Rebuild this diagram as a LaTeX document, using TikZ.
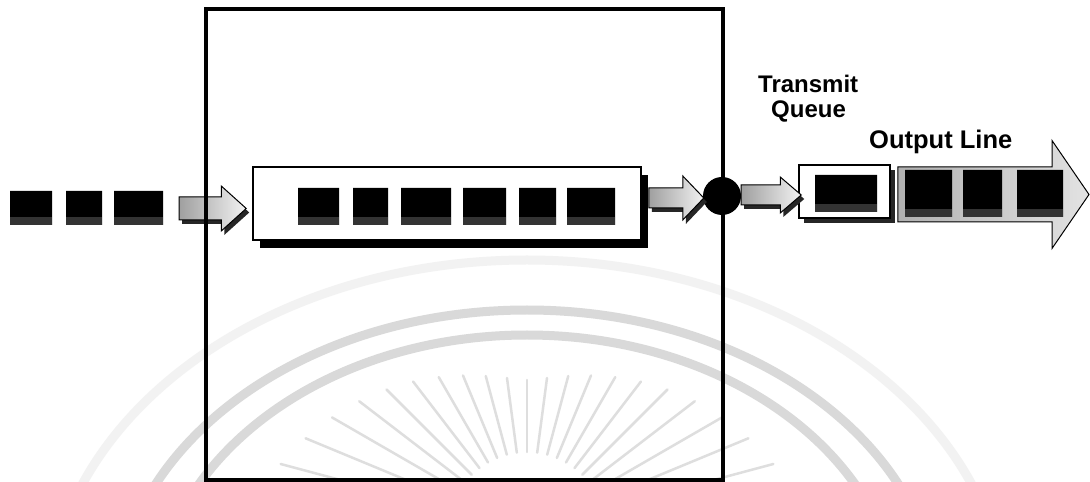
\documentclass[tikz,border=0pt]{standalone}
\usepackage{fontspec}
\setmainfont{Liberation Sans}
\usetikzlibrary{shapes.misc,shadows,calc}
% fat block arrow: #1 style, #2 from node, #3 x offset, #4 to node, #5 x offset, #6 y centre, #7 body half, #8 head half, #9 head length
\newcommand{\fatarrow}[9]{%
  \path[#1] let \p1=([xshift=#3pt]#2), \p2=([xshift=#5pt]#4) in
    (\x1,{#6pt-#7pt}) -- ({\x2-#9pt},{#6pt-#7pt}) -- ({\x2-#9pt},{#6pt-#8pt}) -- (\x2,{#6pt})
    -- ({\x2-#9pt},{#6pt+#8pt}) -- ({\x2-#9pt},{#6pt+#7pt}) -- (\x1,{#6pt+#7pt}) -- cycle;}
\begin{document}
\begin{tikzpicture}[x=1pt,y=1pt,
  pkt/.style={chamfered rectangle, chamfered rectangle corners={north west,south east},
    chamfered rectangle xsep=4pt, chamfered rectangle ysep=4pt, fill=black, inner sep=0pt,
    path picture={\fill[black!80] (path picture bounding box.south west) rectangle ([yshift=8pt]path picture bounding box.south east);}},
  qbox/.style={draw=black, line width=1.5pt, fill=white, inner sep=0pt},
  smallarrow/.style={draw=black, line width=1pt, left color=gray!75, right color=gray!10,
    drop shadow={shadow xshift=3pt, shadow yshift=-4pt, fill=black!85, opacity=1}},
  bigarrow/.style={draw=black, line width=1pt, left color=gray!62, right color=gray!22},
  lbl/.style={inner sep=0pt, anchor=base west, font=\bfseries\fontsize{24}{24}\selectfont},
  wm/.style={black!15, line width=9pt},
  ray/.style={black!13, line width=2.5pt, line cap=round}]
\clip (0,0) rectangle (1090,482);
\fill[white] (0,0) rectangle (1090,482);
% watermark
\draw[wm, black!5] (47,-138) arc[start angle=180, end angle=0, x radius=480, y radius=360];
\draw[wm] (114,-138) arc[start angle=180, end angle=0, x radius=413, y radius=310];
\draw[wm] (154,-138) arc[start angle=180, end angle=0, x radius=373, y radius=285];
\foreach \k in {-10,...,10}{
  \pgfmathsetmacro\ang{90+7.5*\k}
  \pgfmathsetmacro\rout{150+105*(abs(\k)/10)^1.5}
  \draw[ray] ($(527,-48)+(\ang:78)$) -- ($(527,-48)+(\ang:\rout)$);
}
% queue box and packets
\node[qbox, minimum width=388, minimum height=73,
  drop shadow={shadow xshift=7pt, shadow yshift=-8pt, fill=black, opacity=1}] (queue) at (447,278.5) {};
\node[pkt, minimum width=42, minimum height=34] (p1) at (31,274) {};
\node[pkt, minimum width=36, minimum height=34] (p2) at (84,274) {};
\node[pkt, minimum width=49, minimum height=34] (p3) at (138.5,274) {};
\node[pkt, minimum width=41, minimum height=37] (q1) at (318.5,275.5) {};
\node[pkt, minimum width=35, minimum height=37] (q2) at (370.5,275.5) {};
\node[pkt, minimum width=50, minimum height=37] (q3) at (426,275.5) {};
\node[pkt, minimum width=43, minimum height=37] (q4) at (484.5,275.5) {};
\node[pkt, minimum width=37, minimum height=37] (q5) at (537.5,275.5) {};
\node[pkt, minimum width=48, minimum height=37] (q6) at (591,275.5) {};
\node[circle, fill=black, minimum size=38, inner sep=0pt] (mux) at (722,286) {};
\node[qbox, minimum width=91, minimum height=53,
  drop shadow={shadow xshift=5pt, shadow yshift=-5pt, fill=black!85, opacity=1}] (txq) at (844.5,290.5) {};
\node[pkt, minimum width=62, minimum height=37] (t1) at (846,288.5) {};
% connectors
\fatarrow{smallarrow}{p3.east}{16}{queue.west}{-6}{273.5}{11.5}{22.5}{25}
\fatarrow{smallarrow}{queue.east}{7}{mux.west}{1}{284}{10}{22}{21}
\fatarrow{smallarrow}{mux.east}{0}{txq.west}{3}{287}{10}{18}{21}
% router box
\node[draw=black, line width=3.5pt, minimum width=517, minimum height=471, inner sep=0pt] (router) at (464.5,237.5) {};
% output line
\coordinate (outend) at (1089,287.5);
\fatarrow{bigarrow}{txq.east}{7}{outend}{0}{287.5}{27.5}{54}{37}
\node[pkt, minimum width=47, minimum height=47] (o1) at (928.5,288.5) {};
\node[pkt, minimum width=39, minimum height=47] (o2) at (982.5,288.5) {};
\node[pkt, minimum width=46, minimum height=47] (o3) at (1040,288.5) {};
% labels
\node[lbl] (tlabel) at (758,389) {Transmit};
\node[lbl] (qlabel) at (771,364) {Queue};
\node[lbl, font=\bfseries\fontsize{25.5}{25.5}\selectfont] (olabel) at (869,333) {Output Line};
\end{tikzpicture}
\end{document}
